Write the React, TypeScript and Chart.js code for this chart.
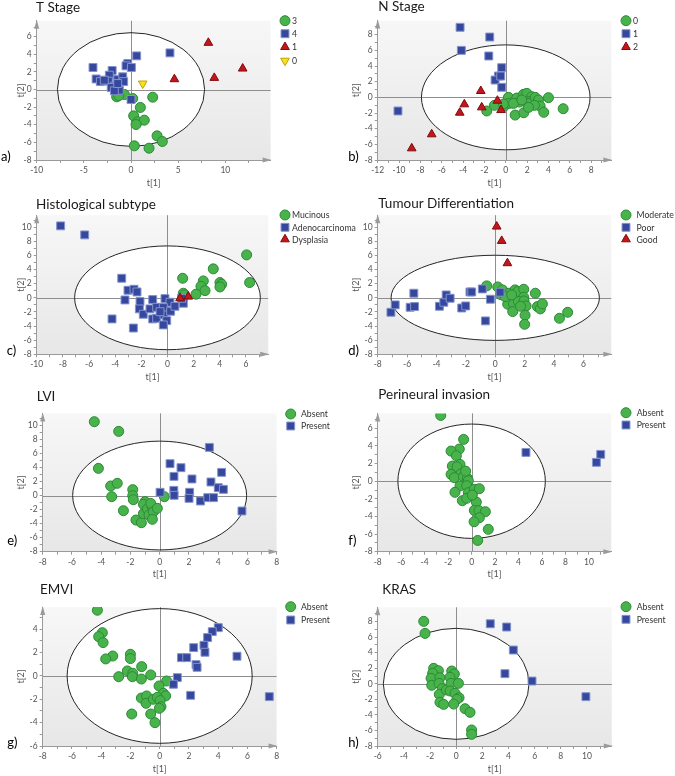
import React, { useEffect, useRef } from 'react';
import { Chart, registerables } from 'chart.js';

Chart.register(...registerables);

type Pt = [number, number];

// ---------- a) T Stage ----------
const aStage3: Pt[] = [[-1.52,-0.83],[-0.7,-0.57],[0.18,-1.02],[2.3,-0.87],[0.99,-2.04],[0.28,-2.99],[0.7,-3.67],[1.41,-3.48],[0.53,-3.97],[2.76,-5.26],[3.32,-5.9],[0.35,-6.39],[1.91,-6.66],[-1.3,-0.7]];
const aStage4: Pt[] = [[4.13,4.16],[0.6,3.82],[-4.03,2.5],[-0.35,2.95],[-0.53,2.69],[0.04,2.5],[-2.0,2.16],[-3.7,1.2],[-3.25,0.9],[-2.3,1.63],[-2.4,0.95],[-1.41,1.13],[-0.88,1.44],[-0.78,0.9],[-1.77,0.38],[-2.1,0.23],[-1.24,-0.08],[-1.77,-0.15],[0,-1.13],[-2.83,1.06],[-1.41,0.68]];
const aStage1: Pt[] = [[8.2,5.3],[11.84,2.38],[8.83,1.32],[4.6,1.17]];
const aStage0: Pt[] = [[1.24,0.68]];

// ---------- b) N Stage ----------
const bN0: Pt[] = [[-1.78,-1.74],[-1.06,-1.02],[-0.13,-1.11],[0.25,0],[0.31,-0.77],[1.03,-0.09],[0.88,-2.26],[1.66,0.38],[1.97,0.51],[2.44,0.09],[2.13,-0.55],[1.69,-1.96],[2.06,-0.77],[2.75,0],[3.06,-0.34],[3.22,-1.11],[3.56,-1.91],[4.0,-0.04],[5.38,-1.45],[1.28,-0.6],[0.72,-0.77],[2.69,-1.02],[2.13,-1.28],[1.5,-0.34],[-0.22,-0.85]];
const bN1: Pt[] = [[-4.28,8.94],[-1.5,7.7],[-4.16,6.0],[-1.59,5.28],[-0.38,3.79],[-0.69,2.72],[-1.0,2.21],[-0.47,2.72],[-0.38,1.28],[-10.1,-1.74]];
const bN2: Pt[] = [[-2.34,0.81],[-0.78,-0.43],[-3.88,-0.89],[-2.25,-1.28],[-0.44,-1.62],[-4.31,-1.96],[-6.94,-4.72],[-8.81,-6.51]];

// ---------- c) Histological subtype ----------
const cMucinous: Pt[] = [[6.05,6.08],[6.28,2.16],[3.5,4.1],[4.01,2.16],[4.14,1.92],[4.01,1.54],[2.74,2.39],[2.56,1.64],[2.87,1.02],[2.18,0.51],[1.16,2.77],[1.21,0.65],[1.16,-0.06],[1.29,0.41]];
const cAdeno: Pt[] = [[-8.17,10.19],[-6.33,8.91],[-3.5,2.77],[-3.02,1.07],[-2.56,1.21],[-2.33,0.83],[-3.25,-0.3],[-2.1,-0.53],[-2.15,-1.57],[-1.85,-2.33],[-4.24,-2.99],[-2.61,-4.28],[-1.13,-0.25],[-1.34,-1.57],[-0.83,-1.34],[-0.19,-0.11],[0.19,-0.63],[-1.13,-2.99],[-0.83,-2.9],[-0.32,-1.38],[-0.27,-2.42],[-0.06,-3.23],[-0.32,-3.84],[0.24,-1.9],[0.57,-1.2],[1.21,-0.77],[1.08,-0.06],[-0.57,-1.97]];
const cDysplasia: Pt[] = [[1.59,0.17],[0.96,-0.06]];

// ---------- d) Tumour Differentiation ----------
const dModerate: Pt[] = [[-0.58,1.69],[0.17,1.54],[0.49,1.12],[0.37,0.46],[0.94,0.65],[1.35,1.12],[1.53,0.88],[1.94,1.21],[1.94,0.08],[0.85,-0.91],[1.24,-0.86],[1.58,-0.53],[1.19,-1.95],[1.96,-0.44],[2.1,-1.15],[2.03,-2.47],[2.0,-3.75],[2.73,0.65],[2.87,-1.24],[3.07,-1.57],[3.21,-0.86],[4.37,-2.9],[4.93,-2.05],[0.67,0.17],[1.12,0.41],[1.72,-1.2]];
const dPoor: Pt[] = [[-7.1,-2.05],[-6.81,-1.0],[-5.79,-1.34],[-5.49,-1.24],[-5.54,0.65],[-3.8,-1.2],[-3.5,-0.63],[-3.34,0.41],[-3.07,-0.06],[-2.28,-1.44],[-2.01,-1.15],[-1.72,0.83],[-1.6,0.83],[-0.88,1.26],[-0.33,-0.2],[-0.67,-3.27],[0.33,0.79]];
const dGood: Pt[] = [[0.1,10.09],[0.44,8.06],[0.83,4.9]];

// ---------- e) LVI ----------
const eAbsent: Pt[] = [[-4.47,10.52],[-2.8,9.14],[-4.19,3.87],[-3.35,1.36],[-2.9,1.74],[-3.28,-0.16],[-1.84,0.84],[-1.84,-0.02],[-1.8,-0.59],[-2.48,-2.16],[-1.62,-3.49],[-1.25,-3.87],[-1.11,-2.58],[-1.0,-0.87],[-1.11,-1.25],[-0.84,-1.92],[-0.73,-2.78],[-0.55,-1.45],[-0.61,-1.12],[-0.43,-2.3],[-0.5,-3.39],[-0.16,-1.82],[0.32,-0.16]];
const ePresent: Pt[] = [[3.4,6.86],[0.71,4.54],[1.46,3.97],[0.98,2.73],[2.21,2.36],[4.24,3.3],[3.51,1.93],[4.01,1.12],[4.36,0.88],[0.03,0.46],[0.97,0.74],[0.99,0.03],[2.05,0.46],[2.01,-0.4],[2.79,-0.78],[3.29,-0.3],[3.69,-0.3],[5.63,-2.2]];

// ---------- f) Perineural invasion ----------
const fAbsent: Pt[] = [[-2.63,7.47],[-0.68,4.75],[-1.05,3.65],[-1.75,3.42],[-1.3,2.89],[-0.99,1.91],[-1.64,1.72],[-1.24,1.64],[-1.75,0.78],[-0.9,0.85],[-1.47,0.4],[-0.7,0.51],[-0.36,0.33],[-0.28,0.06],[-0.99,-0.54],[-0.42,-0.51],[-1.42,-1.26],[-0.28,-1.3],[0.23,-0.92],[0.66,-0.85],[-0.79,-2.21],[-0.42,-1.94],[0.4,-2.36],[0.23,-3.31],[0.63,-3.34],[1.17,-3.46],[0.66,-4.14],[0.21,-4.6],[1.42,-5.46],[0.52,-6.72],[0.06,-1.57],[-0.51,1.15]];
const fPresent: Pt[] = [[4.63,3.27],[11.0,3.05],[10.63,2.14]];

// ---------- g) EMVI ----------
const gAbsent: Pt[] = [[-4.26,5.63],[-3.92,3.71],[-4.17,3.37],[-3.87,2.86],[-3.21,1.71],[-3.69,1.46],[-2.0,1.86],[-2.0,1.49],[-1.23,0.8],[-2.21,0.43],[-1.84,0.23],[-1.87,-0.06],[-2.8,-0.06],[-1.25,-0.26],[-0.61,0.09],[0.48,-0.43],[-0.04,-0.86],[0.25,-1.49],[0.41,-1.71],[-1.25,-1.89],[-0.89,-1.71],[-0.93,-2.34],[-0.43,-2.0],[-0.16,-1.83],[0.03,-2.11],[0.09,-2.63],[-0.02,-2.77],[-1.91,-3.26],[-0.61,-3.26],[-0.32,-4.0]];
const gPresent: Pt[] = [[4.01,4.14],[3.6,3.8],[3.28,3.29],[3.03,2.63],[3.1,2.03],[2.33,2.43],[1.49,1.57],[1.85,1.57],[2.49,0.97],[2.56,0.74],[5.29,1.69],[1.21,-0.14],[0.94,-0.71],[2.12,-1.66],[7.5,-1.77]];

// ---------- h) KRAS ----------
const hAbsent: Pt[] = [[-2.48,8.04],[-2.38,6.49],[-1.72,2.0],[-1.36,1.69],[-1.8,1.35],[-1.92,0.71],[-1.24,0.79],[-1.87,-0.19],[-1.31,0.06],[-1.06,-0.62],[-1.29,-1.35],[-0.75,-0.79],[-0.34,1.65],[-0.14,1.27],[-0.47,0.84],[-0.39,0.06],[0.17,0.06],[-0.47,-0.92],[-0.09,-1.22],[0.22,-1.78],[0.06,-1.99],[-0.19,-2.6],[-1.24,-2.38],[-0.96,-2.64],[0.68,-3.2],[1.06,-3.67],[1.18,-5.94],[1.18,-6.5]];
const hPresent: Pt[] = [[2.61,7.73],[3.86,7.31],[4.37,4.35],[3.73,1.31],[5.8,0.36],[9.92,-1.65]];

// ---------- styles ----------
type Kind = 'green' | 'blue' | 'red' | 'yellow';
const KIND: Record<Kind, { fill: string; border: string; shape: 'circle' | 'rect' | 'triangle'; r: number; rot: number }> = {
  green: { fill: '#48b34b', border: '#2c8a37', shape: 'circle', r: 5, rot: 0 },
  blue: { fill: '#35489d', border: '#8493cc', shape: 'rect', r: 5.6, rot: 0 },
  red: { fill: '#c3161d', border: '#7e0b0d', shape: 'triangle', r: 5, rot: 0 },
  yellow: { fill: '#f6e21b', border: '#c0a300', shape: 'triangle', r: 5, rot: 180 },
};

type Group = { label: string; data: Pt[]; kind: Kind };
type PanelCfg = {
  letter: string; title: string; left: number; top: number; W: number; H: number;
  area: { left: number; top: number; right: number; bottom: number };
  x: [number, number, number, number]; // min, max, tick step, label step
  y: [number, number, number, number];
  ellipse: [number, number];
  groups: Group[];
  titlePos: [number, number]; letterPos: [number, number];
  legend: { cx: number; tx: number; rows: number[] };
};

const FONT = 'Lato, "Noto Sans", "DejaVu Sans", sans-serif';

const panels: PanelCfg[] = [
  {
    letter: 'a)', title: 'T Stage', left: 0, top: 0, W: 420, H: 195,
    area: { left: 36.7, top: 20.8, right: 270.6, bottom: 160 },
    x: [-10, 14.8, 2.5, 5], y: [-8, 7.8, 1, 2], ellipse: [7.8, 6.45],
    groups: [
      { label: '3', data: aStage3, kind: 'green' },
      { label: '4', data: aStage4, kind: 'blue' },
      { label: '1', data: aStage1, kind: 'red' },
      { label: '0', data: aStage0, kind: 'yellow' },
    ],
    titlePos: [36, 11.7], letterPos: [1, 161],
    legend: { cx: 285, tx: 292, rows: [20.7, 33.7, 47, 60.7] },
  },
  {
    letter: 'b)', title: 'N Stage', left: 335, top: 0, W: 340, H: 195,
    area: { left: 42.7, top: 20.6, right: 276.4, bottom: 160 },
    x: [-12, 9.9, 1, 2], y: [-8, 9.8, 1, 2], ellipse: [7.9, 6.7],
    groups: [
      { label: '0', data: bN0, kind: 'green' },
      { label: '1', data: bN1, kind: 'blue' },
      { label: '2', data: bN2, kind: 'red' },
    ],
    titlePos: [43.3, 11], letterPos: [13.3, 161],
    legend: { cx: 291, tx: 298, rows: [20.7, 33.7, 47] },
  },
  {
    letter: 'c)', title: 'Histological subtype', left: 0, top: 195, W: 420, H: 190,
    area: { left: 36.7, top: 20.2, right: 268.2, bottom: 159.3 },
    x: [-10, 7.7, 1, 2], y: [-8, 11.7, 1, 2], ellipse: [7.1, 7.35],
    groups: [
      { label: 'Mucinous', data: cMucinous, kind: 'green' },
      { label: 'Adenocarcinoma', data: cAdeno, kind: 'blue' },
      { label: 'Dysplasia', data: cDysplasia, kind: 'red' },
    ],
    titlePos: [36, 14], letterPos: [6.7, 160],
    legend: { cx: 285, tx: 292, rows: [20, 32.3, 44.3] },
  },
  {
    letter: 'd)', title: 'Tumour Differentiation', left: 335, top: 195, W: 340, H: 190,
    area: { left: 42.7, top: 20.2, right: 276.3, bottom: 159.3 },
    x: [-8, 7.9, 1, 2], y: [-8, 11.7, 1, 2], ellipse: [7.09, 6.03],
    groups: [
      { label: 'Moderate', data: dModerate, kind: 'green' },
      { label: 'Poor', data: dPoor, kind: 'blue' },
      { label: 'Good', data: dGood, kind: 'red' },
    ],
    titlePos: [43.3, 13.3], letterPos: [13.3, 160],
    legend: { cx: 291, tx: 301.5, rows: [20, 32.3, 44.3] },
  },
  {
    letter: 'e)', title: 'LVI', left: 0, top: 385, W: 420, H: 195,
    area: { left: 42.7, top: 28.4, right: 276.6, bottom: 166.7 },
    x: [-8, 8.0, 1, 2], y: [-8, 11.7, 1, 2], ellipse: [5.95, 7.75],
    groups: [
      { label: 'Absent', data: eAbsent, kind: 'green' },
      { label: 'Present', data: ePresent, kind: 'blue' },
    ],
    titlePos: [36.7, 15.7], letterPos: [7.3, 160],
    legend: { cx: 290.7, tx: 301, rows: [29, 41] },
  },
  {
    letter: 'f)', title: 'Perineural invasion', left: 335, top: 385, W: 340, H: 195,
    area: { left: 42.7, top: 28.4, right: 276.3, bottom: 166.7 },
    x: [-8, 11.9, 1, 2], y: [-8, 7.7, 1, 2], ellipse: [6.28, 6.49],
    groups: [
      { label: 'Absent', data: fAbsent, kind: 'green' },
      { label: 'Present', data: fPresent, kind: 'blue' },
    ],
    titlePos: [43.3, 14], letterPos: [13.3, 160],
    legend: { cx: 291, tx: 301.7, rows: [27.7, 40] },
  },
  {
    letter: 'g)', title: 'EMVI', left: 0, top: 580, W: 420, H: 196,
    area: { left: 42.7, top: 27.1, right: 276.6, bottom: 166 },
    x: [-8, 8.0, 1, 2], y: [-6, 5.9, 1, 2], ellipse: [6.33, 5.77],
    groups: [
      { label: 'Absent', data: gAbsent, kind: 'green' },
      { label: 'Present', data: gPresent, kind: 'blue' },
    ],
    titlePos: [40, 14], letterPos: [7.3, 167],
    legend: { cx: 290.7, tx: 301, rows: [26.7, 40] },
  },
  {
    letter: 'h)', title: 'KRAS', left: 335, top: 580, W: 340, H: 196,
    area: { left: 42.7, top: 27.3, right: 276.8, bottom: 166 },
    x: [-6, 11.9, 1, 2], y: [-8, 9.85, 1, 2], ellipse: [5.57, 7.14],
    groups: [
      { label: 'Absent', data: hAbsent, kind: 'green' },
      { label: 'Present', data: hPresent, kind: 'blue' },
    ],
    titlePos: [47.3, 14], letterPos: [13.3, 167],
    legend: { cx: 291, tx: 301.7, rows: [26.7, 39.3] },
  },
];

function drawMarker(ctx: CanvasRenderingContext2D, kind: Kind, cx: number, cy: number) {
  const k = KIND[kind];
  ctx.save();
  ctx.beginPath();
  if (k.shape === 'circle') {
    ctx.arc(cx, cy, k.r, 0, Math.PI * 2);
  } else if (k.shape === 'rect') {
    const s = Math.SQRT1_2 * k.r;
    ctx.rect(cx - s, cy - s, 2 * s, 2 * s);
  } else {
    let a = (k.rot * Math.PI) / 180;
    ctx.moveTo(cx + Math.sin(a) * k.r, cy - Math.cos(a) * k.r);
    a += (2 * Math.PI) / 3;
    ctx.lineTo(cx + Math.sin(a) * k.r, cy - Math.cos(a) * k.r);
    a += (2 * Math.PI) / 3;
    ctx.lineTo(cx + Math.sin(a) * k.r, cy - Math.cos(a) * k.r);
    ctx.closePath();
  }
  ctx.fillStyle = k.fill;
  ctx.fill();
  ctx.lineWidth = 1;
  ctx.strokeStyle = k.border;
  ctx.stroke();
  ctx.restore();
}

function makeDecor(p: PanelCfg) {
  return {
    id: 'decor',
    beforeDraw(chart: any) {
      const { ctx, chartArea: ca, scales } = chart;
      const xs = scales.x, ys = scales.y;
      ctx.save();
      const g = ctx.createLinearGradient(0, ca.top, 0, ca.bottom);
      g.addColorStop(0, '#f7f7f7');
      g.addColorStop(1, '#e7e7e7');
      ctx.fillStyle = g;
      ctx.fillRect(ca.left, ca.top, ca.right - ca.left, ca.bottom - ca.top);
      const cx = xs.getPixelForValue(0), cy = ys.getPixelForValue(0);
      const rx = xs.getPixelForValue(p.ellipse[0]) - cx;
      const ry = cy - ys.getPixelForValue(p.ellipse[1]);
      ctx.beginPath();
      ctx.ellipse(cx, cy, rx, ry, 0, 0, Math.PI * 2);
      ctx.fillStyle = '#ffffff';
      ctx.fill();
      ctx.strokeStyle = '#8e8e8e';
      ctx.lineWidth = 1;
      ctx.beginPath();
      const zy = Math.round(cy) + 0.5, zx = Math.round(cx) + 0.5;
      ctx.moveTo(ca.left, zy); ctx.lineTo(ca.right, zy);
      ctx.moveTo(zx, ca.top); ctx.lineTo(zx, ca.bottom);
      ctx.stroke();
      ctx.beginPath();
      ctx.ellipse(cx, cy, rx, ry, 0, 0, Math.PI * 2);
      ctx.strokeStyle = '#262626';
      ctx.lineWidth = 1;
      ctx.stroke();
      ctx.restore();
    },
    afterDraw(chart: any) {
      const { ctx, chartArea: ca } = chart;
      ctx.save();
      // arrows
      ctx.fillStyle = '#9a9a9a';
      ctx.beginPath();
      ctx.moveTo(ca.right + 1, ca.bottom);
      ctx.lineTo(ca.right - 8, ca.bottom - 2.5);
      ctx.lineTo(ca.right - 8, ca.bottom + 2.5);
      ctx.closePath();
      ctx.fill();
      ctx.beginPath();
      ctx.moveTo(ca.left, ca.top - 1);
      ctx.lineTo(ca.left - 2.5, ca.top + 8);
      ctx.lineTo(ca.left + 2.5, ca.top + 8);
      ctx.closePath();
      ctx.fill();
      // axis titles
      ctx.fillStyle = '#555';
      ctx.font = `9px ${FONT}`;
      ctx.textAlign = 'center';
      ctx.textBaseline = 'middle';
      ctx.fillText('t[1]', (ca.left + ca.right) / 2, ca.bottom + 22.7);
      ctx.save();
      ctx.translate(20.7, (ca.top + ca.bottom) / 2);
      ctx.rotate(-Math.PI / 2);
      ctx.fillText('t[2]', 0, 0);
      ctx.restore();
      // title
      ctx.fillStyle = '#1a1a1a';
      ctx.textAlign = 'left';
      ctx.textBaseline = 'alphabetic';
      ctx.font = `13.5px ${FONT}`;
      ctx.fillText(p.title, p.titlePos[0], p.titlePos[1]);
      // letter
      ctx.fillStyle = '#000';
      ctx.font = `13px ${FONT}`;
      ctx.fillText(p.letter, p.letterPos[0], p.letterPos[1]);
      // legend
      ctx.font = `8.7px ${FONT}`;
      ctx.textBaseline = 'middle';
      p.groups.forEach((g, i) => {
        const yy = p.legend.rows[i];
        drawMarker(ctx, g.kind, p.legend.cx, yy);
        ctx.fillStyle = '#333';
        ctx.fillText(g.label, p.legend.tx, yy + 0.5);
      });
      ctx.restore();
    },
  };
}

function axisOpts(range: [number, number, number, number], fit: (s: any) => void) {
  const [min, max, step, lab] = range;
  return {
    type: 'linear' as const,
    min, max,
    afterFit: fit,
    ticks: {
      stepSize: step,
      autoSkip: false,
      includeBounds: false,
      maxRotation: 0,
      minRotation: 0,
      padding: 2,
      color: '#555',
      font: { size: 8.5, family: FONT },
      callback: (v: any) => {
        const n = Number(v);
        const r = Math.abs(n / lab - Math.round(n / lab));
        return r < 1e-6 ? String(Math.round(n * 100) / 100) : '';
      },
    },
    grid: { drawOnChartArea: false, drawTicks: true, tickLength: 3, color: '#9a9a9a' },
    border: { display: true, color: '#9a9a9a', width: 1 },
  };
}

function Panel({ p }: { p: PanelCfg }) {
  const ref = useRef<HTMLCanvasElement | null>(null);
  useEffect(() => {
    if (!ref.current) return;
    const datasets = p.groups.map((g, i) => {
      const k = KIND[g.kind];
      return {
        label: g.label,
        data: g.data.map(([x, y]) => ({ x, y })),
        pointStyle: k.shape,
        pointRotation: k.rot,
        pointRadius: k.r,
        pointBackgroundColor: k.fill,
        pointBorderColor: k.border,
        pointBorderWidth: 1,
        showLine: false,
        order: p.groups.length - i,
      };
    });
    const chart = new Chart(ref.current, {
      type: 'scatter',
      data: { datasets },
      options: {
        responsive: false,
        animation: false,
        devicePixelRatio: 1,
        events: [],
        layout: {
          autoPadding: false,
          padding: { left: 0, top: p.area.top, right: p.W - p.area.right, bottom: 0 },
        },
        plugins: { legend: { display: false }, tooltip: { enabled: false }, title: { display: false } },
        scales: {
          x: { ...axisOpts(p.x, (s: any) => { s.height = p.H - p.area.bottom; }), position: 'bottom' },
          y: { ...axisOpts(p.y, (s: any) => { s.width = p.area.left; }), position: 'left' },
        },
      } as any,
      plugins: [makeDecor(p)],
    });
    return () => chart.destroy();
  }, [p]);
  return (
    <canvas
      ref={ref}
      width={p.W}
      height={p.H}
      style={{ position: 'absolute', left: p.left, top: p.top, width: p.W, height: p.H }}
    />
  );
}

export default function App() {
  return (
    <div style={{ position: 'absolute', left: 0, top: 0, width: 675, height: 776, background: '#fff', overflow: 'hidden' }}>
      {panels.map((p) => (
        <Panel key={p.letter} p={p} />
      ))}
    </div>
  );
}
